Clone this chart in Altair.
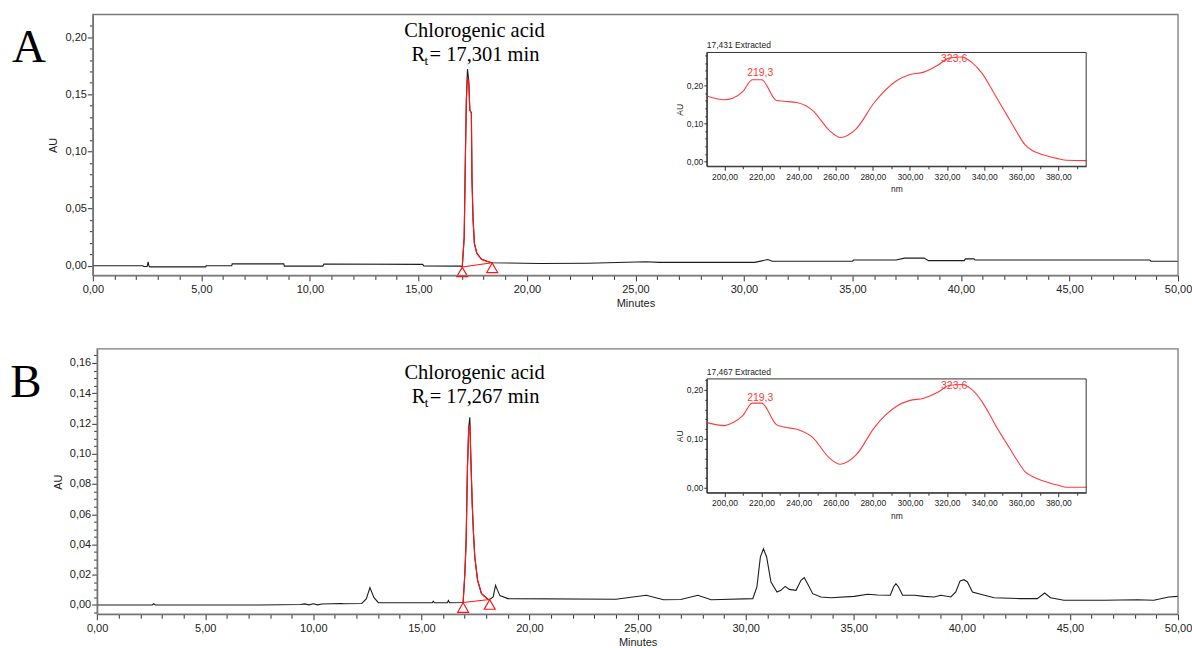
import altair as alt
import pandas as pd

SANS = "Liberation Sans"
SERIF = "Liberation Serif"

# ---------------- Panel A : chromatogram (minutes, AU) ----------------
A_TIME = [0.00, 2.30, 2.35, 2.50, 2.55, 2.58, 2.62, 2.85, 5.20, 5.22, 6.40, 6.42, 8.80, 8.82,
          10.60, 10.65, 15.20, 15.25, 16.95, 17.02, 17.11, 17.17, 17.21, 17.26, 17.32, 17.37,
          17.44, 17.47, 17.52, 17.58, 17.69, 17.91, 18.22, 18.40, 20.60, 22.80, 25.50, 26.10,
          30.50, 31.10, 31.30, 35.00, 35.05, 37.00, 37.40, 38.30, 38.50, 39.40, 40.15, 40.20,
          40.60, 40.65, 48.70, 48.75, 50.00]
A_AU = [0.0, 0.0, -0.0006, -0.0006, 0.0035, 0.0, -0.001, -0.001, -0.001, 0.0, 0.0, 0.0017, 0.0017, -0.0003,
        -0.0003, 0.0015, 0.0012, -0.0002, -0.0003, -0.001, 0.025, 0.101, 0.145, 0.172, 0.162, 0.136,
        0.134, 0.075, 0.040, 0.0196, 0.011, 0.0056, 0.0035, 0.0026, 0.002, 0.0022, 0.0035, 0.003,
        0.003, 0.0055, 0.004, 0.0041, 0.005, 0.005, 0.0067, 0.0067, 0.0045, 0.0045, 0.0045, 0.006,
        0.006, 0.005, 0.005, 0.004, 0.004]
# integrated chlorogenic acid peak (red)
A_PEAK_TIME = [17.02, 17.11, 17.17, 17.21, 17.26, 17.32, 17.37, 17.44, 17.47, 17.52, 17.58, 17.69, 17.91, 18.22, 18.40]
A_PEAK_AU = [-0.001, 0.025, 0.101, 0.145, 0.165, 0.160, 0.136, 0.134, 0.075, 0.040, 0.0196, 0.011, 0.0056, 0.0035, 0.0026]
A_BASE_TIME = [17.02, 18.40]
A_BASE_AU = [-0.001, 0.0026]

# ---------------- Panel B : chromatogram (minutes, AU) ----------------
B_TIME = [0.00, 2.55, 2.62, 2.70, 7.50, 9.40, 9.60, 9.80, 10.00, 10.20,
          10.40, 11.30, 11.40, 12.24, 12.45, 12.62, 12.80, 13.01, 15.50, 15.55,
          15.60, 16.20, 16.25, 16.30, 16.93, 17.01, 17.07, 17.13, 17.19, 17.24,
          17.29, 17.35, 17.41, 17.47, 17.60, 17.78, 18.09, 18.16, 18.32, 18.43,
          18.50, 18.63, 19.00, 24.00, 25.40, 26.20, 27.00, 27.79, 28.40, 28.86,
          30.33, 30.52, 30.68, 30.82, 30.97, 31.17, 31.45, 31.63, 31.83, 32.02,
          32.33, 32.56, 32.71, 32.90, 33.10, 33.48, 33.94, 35.02, 35.64, 36.10,
          36.69, 36.84, 36.95, 37.07, 37.26, 37.80, 38.26, 38.72, 39.03, 39.49,
          39.72, 39.92, 40.10, 40.26, 40.49, 40.87, 41.49, 42.72, 43.49, 43.83,
          44.10, 44.72, 46.57, 48.11, 48.88, 49.57, 50.00]
B_AU = [0.0, 0.0, 0.0008, 0.0, 0.0, 0.0003, 0.0007, 0.0001, 0.0008, 0.0001,
        0.0006, 0.001, 0.0008, 0.001, 0.004, 0.0115, 0.005, 0.0015, 0.0015, 0.0025,
        0.0015, 0.0015, 0.003, 0.0015, 0.0016, 0.0207, 0.0427, 0.091, 0.1175, 0.124,
        0.0955, 0.067, 0.047, 0.0317, 0.0163, 0.0075, 0.0036, 0.0036, 0.0053, 0.013,
        0.0105, 0.0062, 0.0042, 0.0038, 0.0064, 0.0035, 0.0036, 0.0064, 0.0035, 0.0036,
        0.0042, 0.0119, 0.0317, 0.0372, 0.0317, 0.0152, 0.0086, 0.0097, 0.0123, 0.0103,
        0.0097, 0.0163, 0.0181, 0.013, 0.0075, 0.0053, 0.0048, 0.0057, 0.0071, 0.0066,
        0.0064, 0.0119, 0.0141, 0.0119, 0.0064, 0.0064, 0.0057, 0.0053, 0.0064, 0.0053,
        0.0086, 0.0159, 0.0167, 0.0152, 0.0086, 0.0071, 0.0048, 0.0042, 0.0042, 0.0079,
        0.0048, 0.0031, 0.0031, 0.0035, 0.0031, 0.0053, 0.0057]
B_PEAK_TIME = [16.93, 17.01, 17.07, 17.13, 17.19, 17.24, 17.29, 17.35, 17.41, 17.47, 17.60, 17.78, 18.09, 18.16]
B_PEAK_AU = [0.0016, 0.0207, 0.0427, 0.091, 0.1175, 0.1186, 0.0955, 0.067, 0.047, 0.0317, 0.0163, 0.0075, 0.0036, 0.0036]
B_BASE_TIME = [16.93, 18.16]
B_BASE_AU = [0.0016, 0.0036]

# ---------------- UV spectra of the peak (insets) ----------------
SPEC_NM = [190.5, 200, 204.5, 210, 215, 220, 228, 232, 239.5, 247.5, 256.5, 262.5, 271, 281, 293,
           299.6, 307.5, 315, 321, 328, 333, 339, 343.5, 347, 350.7, 354, 357.9, 362, 365.5, 369,
           380, 384.5, 395]
SPEC_A = [0.173, 0.163, 0.167, 0.185, 0.216, 0.216, 0.161, 0.159, 0.155, 0.135, 0.082, 0.063, 0.086,
          0.157, 0.214, 0.229, 0.236, 0.254, 0.273, 0.276, 0.263, 0.232, 0.196, 0.166, 0.135, 0.108,
          0.075, 0.044, 0.030, 0.022, 0.007, 0.003, 0.002]
SPEC_B = [0.133, 0.127, 0.133, 0.148, 0.173, 0.173, 0.129, 0.124, 0.119, 0.103, 0.061, 0.048, 0.067,
          0.124, 0.167, 0.178, 0.183, 0.195, 0.209, 0.211, 0.202, 0.175, 0.146, 0.122, 0.099, 0.079,
          0.055, 0.033, 0.024, 0.018, 0.005, 0.001, 0.001]
PEAK_LABELS = ["219,3", "323,6"]
PEAK_LABEL_NM = [219.3, 323.8]
PEAK_LABEL_AU_A = [0.2246, 0.262]
PEAK_LABEL_AU_B = [0.1767, 0.202]

# ---------------- texts & ticks ----------------
COMPOUND = "Chlorogenic acid"
RT_A = "= 17,301 min"
RT_B = "= 17,267 min"
EXTRACTED_A = "17,431 Extracted"
EXTRACTED_B = "17,467 Extracted"
X_TICKS = list(range(0, 51))
YA_TICKS = [round(0.01 * i, 2) for i in range(0, 22)]
YB_TICKS = [round(0.005 * i, 3) for i in range(-1, 34)]
NM_TICKS = list(range(200, 391, 10))
IA_TICKS = [round(0.02 * i, 2) for i in range(0, 15)]
IB_TICKS = [round(0.02 * i, 2) for i in range(0, 12)]

W = 1087
RED = "#ff1414"
SPEC_RED = "#ff3b3b"
BLACK = "#1c1c1c"


def lab_expr(major):
    return f"({major}) ? replace(format(datum.value, '.2f'), '.', ',') : ''"


def tsize(major, big, small):
    return {"condition": {"test": major, "value": big}, "value": small}


def panel(letter, time, au, pk_t, pk_v, bl_t, bl_v, ydom, height, yticks, ymajor,
          x_shift, ann_t, ann_v1, ann_v2, rt_text, letter_x, letter_y,
          spec, idom, irange, iticks, lab_au, extracted):
    xs = dict(domain=[0, 50], nice=False, zero=False)
    if x_shift:
        xs["range"] = [x_shift, W]
    xscale = alt.Scale(**xs)
    yscale = alt.Scale(domain=ydom, nice=False, zero=False)
    xmaj = "datum.value % 5 == 0"
    xaxis = alt.Axis(values=X_TICKS, labelExpr=lab_expr(xmaj), tickSize=tsize(xmaj, 5.5, 4),
                     title="Minutes", labelFlush=False, labelOverlap=False, labelPadding=3,
                     titlePadding=3)
    yaxis_kw = dict(values=yticks, labelExpr=lab_expr(ymajor), tickSize=tsize(ymajor, 5.5, 3.5),
                    title="AU", labelPadding=1, titlePadding=6, labelOverlap=False, labelFlush=False)
    if x_shift:
        yaxis_kw["offset"] = -x_shift
    yaxis = alt.Axis(**yaxis_kw)

    chrom = pd.DataFrame({"t": time, "v": au})
    peak = pd.DataFrame({"t": pk_t, "v": pk_v})
    base = pd.DataFrame({"t": bl_t, "v": bl_v})
    frame = pd.DataFrame({"t": [0], "t2": [50], "v": [ydom[0]], "v2": [ydom[1]]})

    X = lambda f="t": alt.X(f"{f}:Q", scale=xscale, axis=xaxis)
    Y = lambda f="v": alt.Y(f"{f}:Q", scale=yscale, axis=yaxis)

    frame_l = alt.Chart(frame).mark_rect(fillOpacity=0, stroke="#7a7a7a", strokeWidth=1.3).encode(
        x=X(), x2="t2:Q", y=Y(), y2="v2:Q")
    line_l = alt.Chart(chrom).mark_line(color=BLACK, strokeWidth=1.1).encode(x=X(), y=Y())
    peak_l = alt.Chart(peak).mark_line(color=RED, strokeWidth=1.2).encode(x=X(), y=Y())
    base_l = alt.Chart(base).mark_line(color=RED, strokeWidth=1.1).encode(x=X(), y=Y())
    tri_l = alt.Chart(base).mark_point(shape="triangle-up", filled=False, size=120, color=RED,
                                       strokeWidth=1.2, opacity=1).encode(
        x=X(), y=Y(), yOffset=alt.value(5))
    ann = pd.DataFrame({"t": [ann_t], "v1": [ann_v1], "v2": [ann_v2], "c": [COMPOUND],
                        "r": ["R"], "s": ["t"], "rt": [rt_text]})
    t1 = alt.Chart(ann).mark_text(font=SERIF, fontSize=20.5, align="center", baseline="alphabetic",
                                  color="black").encode(x=X(), y=Y("v1"), text="c:N")
    t2 = alt.Chart(ann).mark_text(font=SERIF, fontSize=20.5, align="left", baseline="alphabetic",
                                  color="black", dx=-63).encode(x=X(), y=Y("v2"), text="r:N")
    t3 = alt.Chart(ann).mark_text(font=SERIF, fontSize=13, align="left", baseline="alphabetic",
                                  color="black", dx=-50, dy=4).encode(x=X(), y=Y("v2"), text="s:N")
    t4 = alt.Chart(ann).mark_text(font=SERIF, fontSize=20.5, align="left", baseline="alphabetic",
                                  color="black", dx=-45).encode(x=X(), y=Y("v2"), text="rt:N")
    let = alt.Chart(pd.DataFrame({"s": [letter]})).mark_text(
        font=SERIF, fontSize=47, align="center", baseline="alphabetic", color="black").encode(
        x=alt.value(letter_x), y=alt.value(letter_y), text="s:N")
    main = alt.layer(line_l, peak_l, base_l, tri_l, frame_l, t1, t2, t3, t4, let)

    # ---- inset spectrum ----
    ixscale = alt.Scale(domain=[190.5, 395], range=[615, 995], nice=False, zero=False)
    iyscale = alt.Scale(domain=idom, range=irange, nice=False, zero=False)
    nmaj = "datum.value % 20 == 0"
    iymaj = "round(datum.value * 100) % 10 == 0"
    ixaxis = alt.Axis(orient="bottom", offset=-(height - irange[0]), values=NM_TICKS,
                      labelExpr=lab_expr(nmaj), tickSize=tsize(nmaj, 4, 2.5), title="nm",
                      labelFontSize=8.5, titleFontSize=8.5, labelPadding=2, titlePadding=4,
                      labelFlush=False, labelOverlap=False, domainColor="#333", tickColor="#333",
                      domainWidth=1)
    iyaxis = alt.Axis(orient="left", offset=-615, values=iticks, labelExpr=lab_expr(iymaj),
                      tickSize=tsize(iymaj, 3, 2), title="AU", labelFontSize=8.5, titleFontSize=8.5,
                      labelPadding=1, titlePadding=2, labelFlush=False, labelOverlap=False,
                      domainColor="#333", tickColor="#333", domainWidth=1)
    IX = lambda f="nm": alt.X(f"{f}:Q", scale=ixscale, axis=ixaxis)
    IY = lambda f="au": alt.Y(f"{f}:Q", scale=iyscale, axis=iyaxis)
    sp = pd.DataFrame({"nm": SPEC_NM, "au": spec})
    iframe = pd.DataFrame({"nm": [190.5], "nm2": [395], "au": [idom[0]], "au2": [idom[1]],
                           "title": [extracted]})
    labs = pd.DataFrame({"nm": PEAK_LABEL_NM, "au": lab_au, "txt": PEAK_LABELS})
    sp_l = alt.Chart(sp).mark_line(color=SPEC_RED, strokeWidth=1.1, interpolate="monotone").encode(
        x=IX(), y=IY())
    if_l = alt.Chart(iframe).mark_rect(fillOpacity=0, stroke="#333", strokeWidth=1).encode(
        x=IX(), x2="nm2:Q", y=IY(), y2="au2:Q")
    it_l = alt.Chart(iframe).mark_text(font=SANS, fontSize=8.5, align="left", baseline="bottom",
                                       color="#222", dy=-2).encode(x=IX(), y=IY("au2"), text="title:N")
    lb_l = alt.Chart(labs).mark_text(font=SANS, fontSize=10.5, align="center", baseline="alphabetic",
                                     color=SPEC_RED).encode(x=IX(), y=IY(), text="txt:N")
    inset = alt.layer(sp_l, if_l, it_l, lb_l)

    return alt.layer(main, inset).resolve_scale(x="independent", y="independent").properties(
        width=W, height=height)


pa = panel("A", A_TIME, A_AU, A_PEAK_TIME, A_PEAK_AU, A_BASE_TIME, A_BASE_AU,
           [-0.0084, 0.2198], 261.3, YA_TICKS, "round(datum.value * 100) % 5 == 0",
           0, 17.585, 0.200, 0.1788, RT_A, -64, 48,
           SPEC_A, [-0.013, 0.288], [152, 38], IA_TICKS, PEAK_LABEL_AU_A, EXTRACTED_A)
pb = panel("B", B_TIME, B_AU, B_PEAK_TIME, B_PEAK_AU, B_BASE_TIME, B_BASE_AU,
           [-0.0061, 0.1692], 265.7, YB_TICKS, "round(datum.value * 1000) % 20 == 0",
           4.3, 17.46, 0.1494, 0.1336, RT_B, -67, 48.4,
           SPEC_B, [-0.0102, 0.2224], [144, 30], IB_TICKS, PEAK_LABEL_AU_B, EXTRACTED_B)

chart = alt.vconcat(pa, pb, spacing=73, bounds="flush").properties(
    padding={"left": 10, "top": 13, "right": 0, "bottom": 0}
).configure_view(stroke=None).configure_axis(
    labelFont=SANS, labelFontSize=11, labelColor="#222", titleFont=SANS, titleFontSize=11,
    titleFontWeight="normal", titleColor="#222", domainColor="#666", domainWidth=1.3,
    tickColor="#333", tickWidth=1, grid=False
)

chart.save("out.html", embed_options={"renderer": "svg", "actions": False})
